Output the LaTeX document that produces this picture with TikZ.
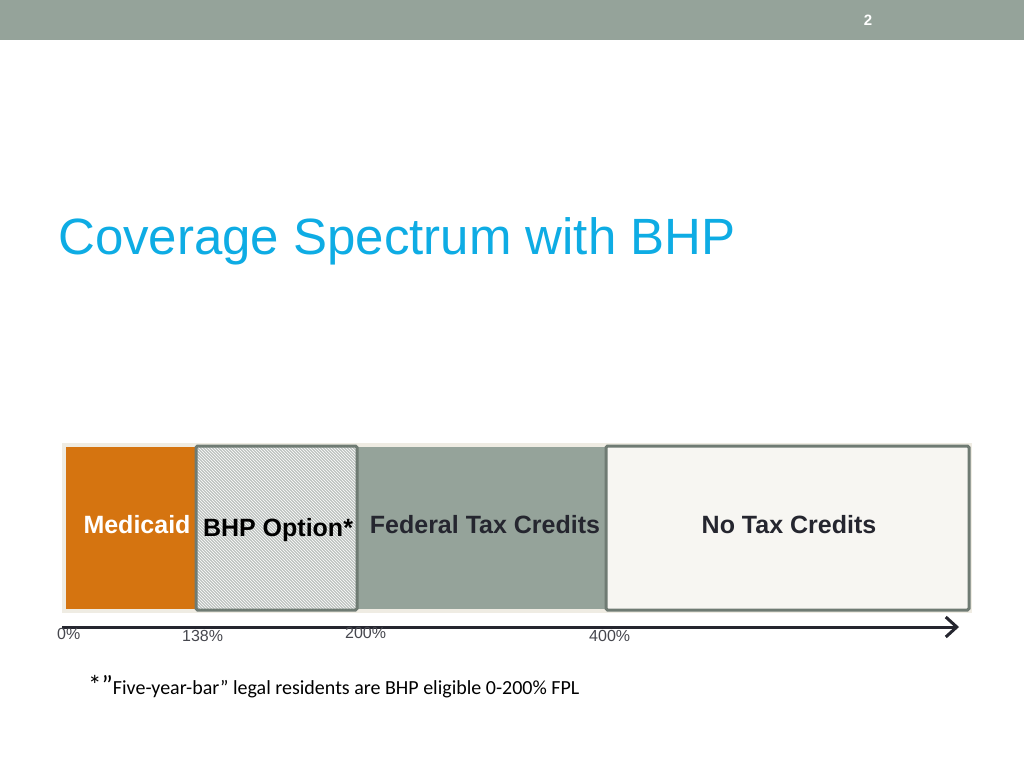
\documentclass[tikz,border=0pt]{standalone}
\usepackage{fontspec}
\setmainfont{Liberation Sans}
\newfontfamily\calib{Carlito}
\usetikzlibrary{arrows.meta,patterns}
\definecolor{bar}{RGB}{149,163,154}
\definecolor{titlec}{RGB}{14,172,228}
\definecolor{orng}{RGB}{213,116,16}
\definecolor{beige}{RGB}{239,236,227}
\definecolor{bord}{RGB}{111,123,115}
\definecolor{pale}{RGB}{247,246,242}
\definecolor{dtext}{RGB}{37,38,47}
\definecolor{hatchbg}{RGB}{190,195,192}
\tikzset{
  seg/.style={draw=none, inner sep=0pt, outer sep=0pt},
  framed/.style={draw=bord, line width=3pt, rounded corners=1.5pt, inner sep=0pt, outer sep=0pt},
  lbl/.style={font=\bfseries\fontsize{25}{28}\selectfont, inner sep=0pt},
  pct/.style={font=\fontsize{16}{18}\selectfont, text=dtext!85, inner sep=0pt, anchor=north west},
}
\begin{document}
\begin{tikzpicture}[x=1pt,y=-1pt]
\useasboundingbox (0,0) rectangle (1024,768);
\fill[white] (0,0) rectangle (1024,768);
% top bar
\fill[bar] (0,0) rectangle (1024,40);
\node[text=white, font=\bfseries\fontsize{15}{16}\selectfont, inner sep=0pt] (pg) at (868,20) {2};
% title
\node[text=titlec, font=\fontsize{51}{56}\selectfont, anchor=base west, inner sep=0pt] (title) at (58,254) {Coverage Spectrum with BHP};
% background band
\fill[beige] (62,443) rectangle (972,613);
% segments
\path[seg, fill=orng] (66,447) rectangle (195,609);
\node[seg, minimum width=129pt, minimum height=162pt, anchor=north west] (med) at (66,447) {};
\path[seg, fill=bar] (358,447) rectangle (605,609);
\node[seg, minimum width=247pt, minimum height=162pt, anchor=north west] (fed) at (358,447) {};
\path[fill=hatchbg] (196,446) rectangle (357,610);
\path[pattern=north west lines, pattern color=white] (196,446) rectangle (357,610);
\draw[framed] (196,446) rectangle (357,610);
\node[seg, minimum width=161pt, minimum height=164pt, anchor=north west] (bhp) at (196,446) {};
\draw[framed, fill=pale] (606,446) rectangle (969,610);
\node[seg, minimum width=363pt, minimum height=164pt, anchor=north west] (none) at (606,446) {};
% labels
\node[lbl, text=white] (tmed) at (137,525) {Medicaid};
\node[lbl, text=black] (tbhp) at (278,530) {BHP Option*};
\node[lbl, text=dtext] (tfed) at (485,525) {Federal Tax Credits};
\node[lbl, text=dtext] (tnone) at (789,525) {No Tax Credits};
% axis
\coordinate (a0) at (62,627);
\coordinate (a1) at (959,627);
\draw[dtext, line width=3pt, -{Straight Barb[length=11pt,width=20pt,line width=3pt]}] (a0) -- (a1);
\node[pct] (p0) at (57,628) {0\%};
\node[pct] (p138) at (182,630) {138\%};
\node[pct] (p200) at (345,627) {200\%};
\node[pct] (p400) at (589,630) {400\%};
% footnote
\node[anchor=base west, inner sep=0pt, text=black] (foot) at (88,694) {{\calib\fontsize{27}{30}\selectfont *”}{\calib\fontsize{20}{24}\selectfont Five-year-bar” legal residents are BHP eligible 0-200\% FPL}};
\end{tikzpicture}
\end{document}
